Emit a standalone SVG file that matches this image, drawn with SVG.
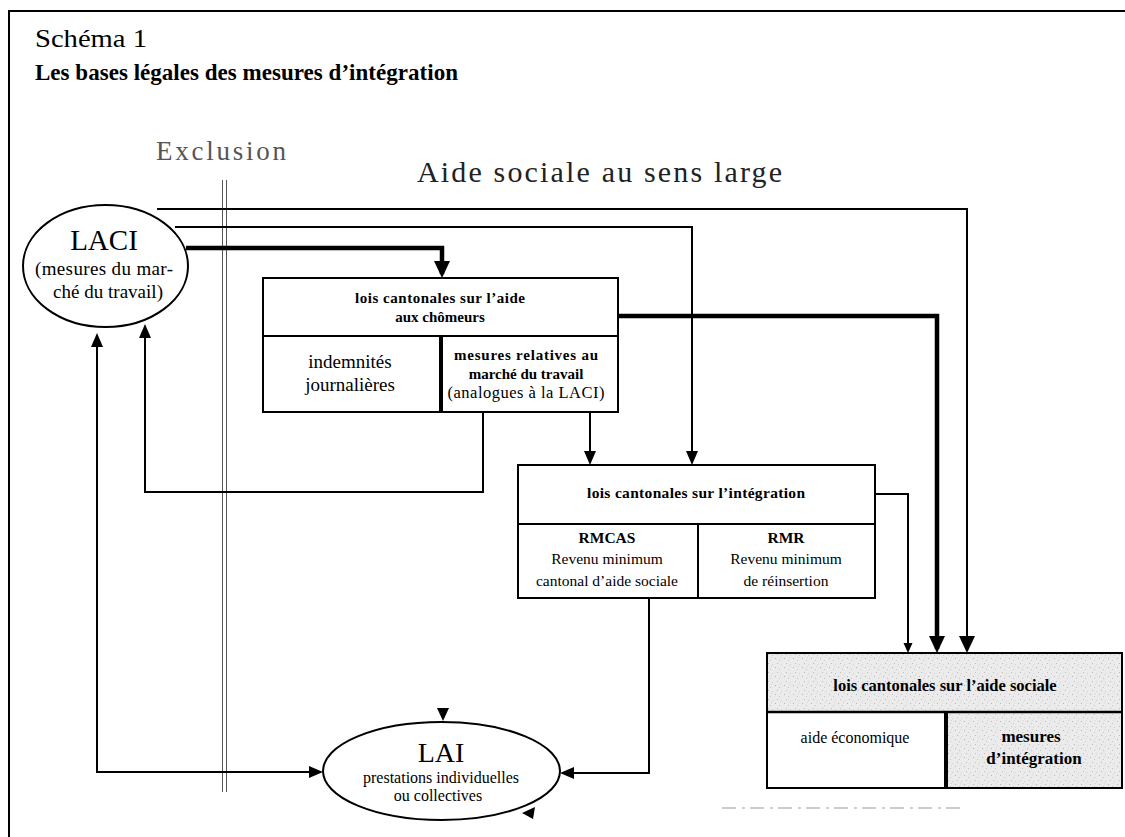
<svg xmlns="http://www.w3.org/2000/svg" width="1125" height="837" viewBox="0 0 1125 837">
<style>
text{font-family:"Liberation Serif","Times New Roman",serif;fill:#000}
.b{font-weight:bold}
.box{fill:#fff;stroke:#000;stroke-width:2}
.shade{fill:url(#stipple)}
.ln{fill:none;stroke:#000;stroke-width:2}
.thick{fill:none;stroke:#000;stroke-width:4.5}
.ell{fill:#fff;stroke:#000;stroke-width:2}
</style>
<defs>
<pattern id="stipple" width="9" height="9" patternUnits="userSpaceOnUse">
<rect width="9" height="9" fill="#ebebeb"/>
<rect x="1" y="1" width="1" height="1" fill="#b5b5b5"/>
<rect x="5" y="3" width="1" height="1" fill="#c4c4c4"/>
<rect x="3" y="6" width="1" height="1" fill="#bdbdbd"/>
<rect x="7" y="7" width="1" height="1" fill="#d0d0d0"/>
<rect x="6" y="0" width="1" height="1" fill="#d8d8d8"/>
</pattern>
<marker id="as" viewBox="0 0 10 10" refX="6" refY="5" markerWidth="10" markerHeight="10" orient="auto-start-reverse" markerUnits="userSpaceOnUse"><path d="M0,0.5 L10,5 L0,9.5 z"/></marker>
<marker id="am" viewBox="0 0 14 12" refX="10" refY="6" markerWidth="14" markerHeight="12" orient="auto-start-reverse" markerUnits="userSpaceOnUse"><path d="M0,0 L14,6 L0,12 z"/></marker>
<marker id="al" viewBox="0 0 17 16" refX="13" refY="8" markerWidth="17" markerHeight="16" orient="auto-start-reverse" markerUnits="userSpaceOnUse"><path d="M0,0 L17,8 L0,16 z"/></marker>
</defs>
<rect width="1125" height="837" fill="#fff"/>
<g id="frame">
<path d="M9,837 V11 H1125" fill="none" stroke="#000" stroke-width="2"/>
<line x1="222.5" y1="180" x2="222.5" y2="792" stroke="#555" stroke-width="1"/>
<line x1="226.5" y1="180" x2="226.5" y2="792" stroke="#555" stroke-width="1"/>
<line x1="722" y1="808" x2="960" y2="808" stroke="#999" stroke-width="1" stroke-dasharray="14 6 3 5"/>
</g>
<g id="titles">
<text x="35" y="47" font-size="25" textLength="112" lengthAdjust="spacingAndGlyphs">Schéma 1</text>
<text x="35" y="80" font-size="23" class="b" textLength="423" lengthAdjust="spacing">Les bases légales des mesures d’intégration</text>
<text x="156" y="160" font-size="27" textLength="130" lengthAdjust="spacing" style="fill:#555">Exclusion</text>
<text x="417" y="182" font-size="30" textLength="365" lengthAdjust="spacing" style="fill:#222">Aide sociale au sens large</text>
</g>
<g id="connectors">
<path class="ln" d="M157,209 H967 V649" marker-end="url(#al)"/>
<path class="ln" d="M175,227 H692 V461" marker-end="url(#am)"/>
<path class="thick" d="M186,248 H442 V274" marker-end="url(#al)"/>
<path class="thick" d="M618,316 H937 V649" marker-end="url(#al)"/>
<path class="ln" d="M590,412 V461" marker-end="url(#am)"/>
<path class="ln" d="M483,412 V492 H145 V328" marker-end="url(#am)"/>
<path class="ln" d="M97,337 V772 H319" marker-start="url(#am)" marker-end="url(#am)"/>
<path class="ln" d="M875,494 H908 V649" marker-end="url(#as)"/>
<path class="ln" d="M649,598 V773 H564" marker-end="url(#am)"/>
<path d="M437,708 L449,708 L443,721 z"/>
<path d="M522,813 L535,807 L533,819 z"/>
</g>
<g id="laci">
<ellipse class="ell" cx="105.5" cy="266" rx="82.5" ry="61"/>
<text x="104" y="250" font-size="29" text-anchor="middle">LACI</text>
<text x="104" y="275" font-size="19" text-anchor="middle" textLength="138" lengthAdjust="spacing">(mesures du mar-</text>
<text x="108" y="298" font-size="19" text-anchor="middle" textLength="110" lengthAdjust="spacing">ché du travail)</text>
</g>
<g id="chomeurs">
<rect class="box" x="263" y="278" width="355" height="134"/>
<line x1="263" y1="336" x2="618" y2="336" stroke="#000" stroke-width="2"/>
<line x1="441" y1="336" x2="441" y2="412" stroke="#000" stroke-width="4"/>
<text x="440" y="303" font-size="15" class="b" text-anchor="middle" textLength="170" lengthAdjust="spacing">lois cantonales sur l’aide</text>
<text x="440" y="322" font-size="15" class="b" text-anchor="middle">aux chômeurs</text>
<text x="350" y="368" font-size="19" text-anchor="middle">indemnités</text>
<text x="350" y="391" font-size="19" text-anchor="middle">journalières</text>
<text x="526" y="360" font-size="15" class="b" text-anchor="middle" textLength="144" lengthAdjust="spacing">mesures relatives au</text>
<text x="526" y="379" font-size="15" class="b" text-anchor="middle">marché du travail</text>
<text x="526" y="398" font-size="16.5" text-anchor="middle" textLength="157" lengthAdjust="spacing">(analogues à la LACI)</text>
</g>
<g id="integration">
<rect class="box" x="518" y="465" width="357" height="133"/>
<line x1="518" y1="524" x2="875" y2="524" stroke="#000" stroke-width="2"/>
<line x1="698" y1="524" x2="698" y2="598" stroke="#000" stroke-width="2"/>
<text x="696" y="498" font-size="15.5" class="b" text-anchor="middle" textLength="218" lengthAdjust="spacing">lois cantonales sur l’intégration</text>
<text x="607" y="543" font-size="15.5" class="b" text-anchor="middle">RMCAS</text>
<text x="607" y="564" font-size="15.5" text-anchor="middle">Revenu minimum</text>
<text x="607" y="586" font-size="15.5" text-anchor="middle">cantonal d’aide sociale</text>
<text x="786" y="543" font-size="15.5" class="b" text-anchor="middle">RMR</text>
<text x="786" y="564" font-size="15.5" text-anchor="middle">Revenu minimum</text>
<text x="786" y="586" font-size="15.5" text-anchor="middle">de réinsertion</text>
</g>
<g id="aidesociale">
<rect class="box" x="767" y="653" width="355" height="135"/>
<rect class="shade" x="768" y="654" width="353" height="58"/>
<rect class="shade" x="946" y="712" width="175" height="75"/>
<rect x="767" y="653" width="355" height="135" fill="none" stroke="#000" stroke-width="2"/>
<line x1="767" y1="712" x2="1122" y2="712" stroke="#000" stroke-width="2.5"/>
<line x1="946" y1="712" x2="946" y2="788" stroke="#000" stroke-width="4"/>
<text x="945" y="691" font-size="16.5" class="b" text-anchor="middle">lois cantonales sur l’aide sociale</text>
<text x="855" y="743" font-size="16" text-anchor="middle">aide économique</text>
<text x="1031" y="742" font-size="17" class="b" text-anchor="middle">mesures</text>
<text x="1034" y="764" font-size="17" class="b" text-anchor="middle">d’intégration</text>
</g>
<g id="lai">
<ellipse class="ell" cx="441.5" cy="771" rx="118.5" ry="49"/>
<text x="441" y="762" font-size="28" text-anchor="middle">LAI</text>
<text x="441" y="783" font-size="16" text-anchor="middle">prestations individuelles</text>
<text x="438" y="801" font-size="16" text-anchor="middle">ou collectives</text>
</g>
</svg>
